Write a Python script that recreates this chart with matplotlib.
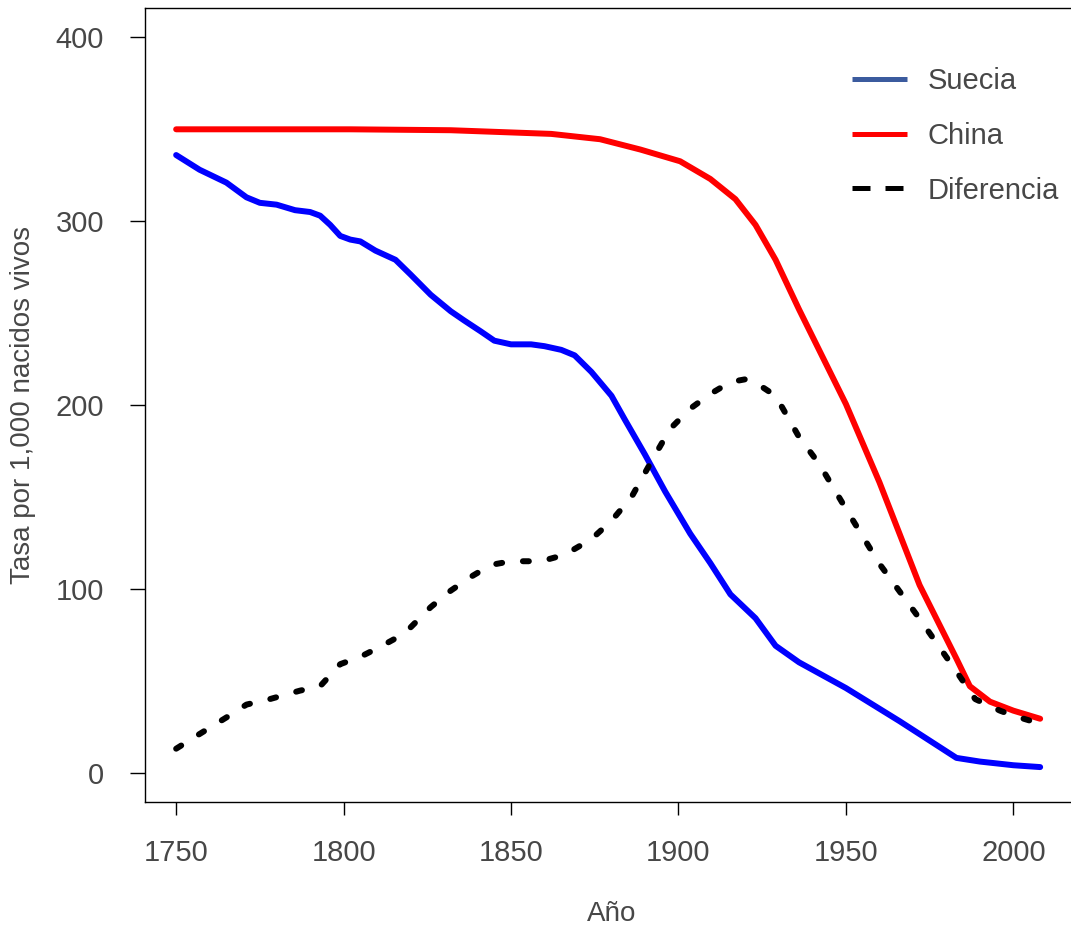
import numpy as np
import matplotlib
matplotlib.use("Agg")
import matplotlib.pyplot as plt
from matplotlib.lines import Line2D

plt.rcParams['font.family'] = ['Liberation Sans Narrow', 'Liberation Sans', 'DejaVu Sans']

# Suecia (blue)
years_se = [1750, 1757, 1765, 1771, 1775, 1780, 1785.5, 1790, 1793, 1796, 1799, 1802,
            1805, 1809.5, 1815.5, 1820, 1826, 1832, 1836, 1841, 1845, 1850, 1856, 1860,
            1865, 1869, 1874, 1880, 1884, 1890, 1896, 1903.5, 1909.5, 1915.5, 1923, 1929,
            1936, 1950, 1966, 1983, 1990, 2000, 2008]
suecia = [336, 328, 321, 313, 310, 309, 306, 305, 303, 298, 292, 290,
          289, 284, 279, 271, 260, 251, 246, 240, 235, 233, 233, 232,
          230, 227, 218, 205, 192, 173, 153, 130, 114, 97, 84, 69,
          60, 46, 28, 8, 6, 4, 3]

# China (red)
years_cn = [1750, 1802, 1832, 1862, 1876.6, 1888.6, 1900.5, 1909.5, 1917, 1923, 1929,
            1936, 1950, 1960, 1972, 1983, 1987, 1993, 2000, 2008]
china = [350, 350, 349.5, 347.5, 344.6, 339, 332.6, 323, 312, 298, 279,
         252, 200.5, 158, 102, 62, 47, 38.6, 33.7, 29.3]

# Diferencia (black dashed)
years_df = [1750, 1757, 1765, 1771, 1778, 1787, 1793, 1799, 1805, 1811, 1815.5, 1820,
            1826, 1832, 1838, 1844, 1850, 1859, 1866, 1874, 1880, 1886, 1892, 1897.5,
            1903.5, 1909.5, 1915.5, 1920, 1924, 1929, 1936, 1942, 1950, 1960, 1972,
            1983, 1988.6, 1996, 2000, 2008]
diferencia = [13, 21, 30, 37, 40, 44.6, 47, 59, 63, 68.5, 73, 79,
              90, 99, 106.5, 113, 115, 115, 118.5, 127, 137, 150, 169.6, 187,
              198, 206, 212.5, 214, 211, 205, 182.6, 168, 143.5, 113.6, 83.7,
              55, 40, 33.7, 31, 26.6]

xticks = [1750, 1800, 1850, 1900, 1950, 2000]
yticks = [0, 100, 200, 300, 400]

W, H = 1071, 927
fig = plt.figure(figsize=(W / 100, H / 100), dpi=100)
ax = fig.add_axes([145 / W, 125 / H, (1078 - 145) / W, (802 - 8) / H])

lw = 4.3
ax.plot(years_se, suecia, color='#0000ff', lw=lw, solid_capstyle='round', solid_joinstyle='round')
ax.plot(years_cn, china, color='#ff0000', lw=lw, solid_capstyle='round', solid_joinstyle='round')
ax.plot(years_df, diferencia, color='black', lw=lw, dashes=(1.0, 3.5),
        dash_capstyle='round', dash_joinstyle='round')

ax.set_xlim(1740.7, 2019.3)
ax.set_ylim(-16, 416)
ax.set_xticks(xticks)
ax.set_yticks(yticks)

txtcol = '#474747'
fs = 21
ax.tick_params(axis='x', length=9.4, width=1, pad=17, labelsize=fs, labelcolor=txtcol)
ax.tick_params(axis='y', length=10.5, width=1, pad=19, labelsize=fs, labelcolor=txtcol)
for s in ax.spines.values():
    s.set_linewidth(1.0)

ax.set_xlabel('Año', fontsize=20, color=txtcol, labelpad=25)
ax.set_ylabel('Tasa por 1,000 nacidos vivos', fontsize=20, color=txtcol, labelpad=14)

handles = [
    Line2D([], [], color='#3b5b9e', lw=3.6, solid_capstyle='butt'),
    Line2D([], [], color='#ff0000', lw=3.6, solid_capstyle='butt'),
    Line2D([], [], color='black', lw=3.6, dashes=(3.6, 3.0), dash_capstyle='butt'),
]
leg = fig.legend(handles, ['Suecia', 'China', 'Diferencia'], loc='upper left',
                 bbox_to_anchor=(852 / W, 1 - 67 / H), frameon=False, borderpad=0,
                 borderaxespad=0, handlelength=1.9, handletextpad=0.68,
                 labelspacing=0.92, fontsize=fs)
for t in leg.get_texts():
    t.set_color(txtcol)

fig.savefig('out.png', dpi=100)
